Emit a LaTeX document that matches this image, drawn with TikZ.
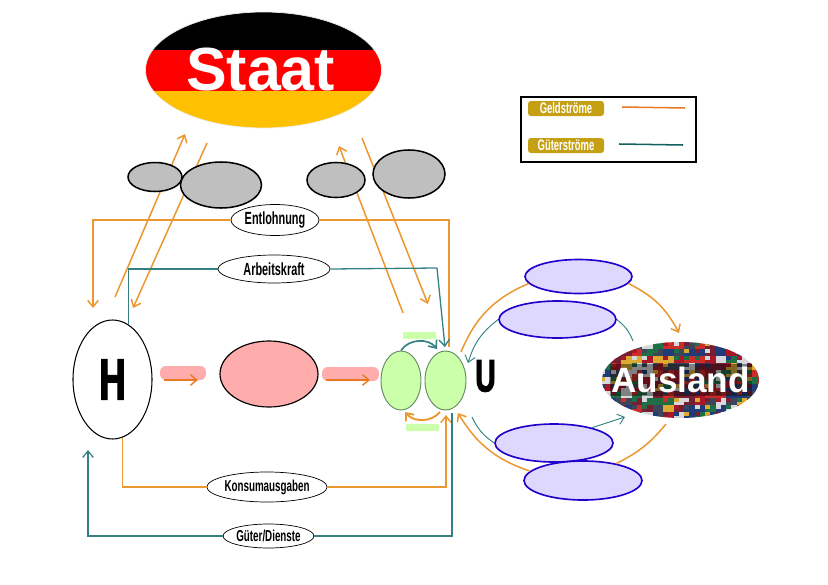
\documentclass[tikz,border=0pt]{standalone}
\usepackage{fontspec}
\setmainfont{Liberation Sans}
\newfontfamily\dinfont[FakeStretch=0.62]{Liberation Sans}
\newfontfamily\dinheavy[FakeStretch=0.62, FakeBold=2]{Liberation Sans Bold}
\usetikzlibrary{shapes.geometric, arrows.meta, positioning, calc}
\definecolor{geldOrange}{RGB}{236, 152, 50}
\definecolor{guterTeal}{RGB}{52, 128, 130}
\definecolor{deepOrange}{RGB}{232, 122, 36}
\definecolor{legendTeal}{RGB}{20, 96, 96}
\definecolor{flagGold}{RGB}{255, 192, 0}
\definecolor{legendGold}{RGB}{198, 160, 20}
\definecolor{pinkFill}{RGB}{255, 172, 172}
\definecolor{greenFill}{RGB}{204, 255, 170}
\definecolor{greenLine}{RGB}{100, 140, 100}
\definecolor{lilacFill}{RGB}{222, 216, 255}
\definecolor{lilacLine}{RGB}{34, 0, 204}
\definecolor{flag0}{RGB}{170, 24, 40}
\definecolor{flag1}{RGB}{32, 60, 120}
\definecolor{flag2}{RGB}{215, 215, 220}
\definecolor{flag3}{RGB}{30, 110, 70}
\definecolor{flag4}{RGB}{205, 45, 40}
\definecolor{flag5}{RGB}{220, 170, 50}
\definecolor{flag6}{RGB}{120, 30, 50}
\definecolor{flag7}{RGB}{60, 70, 90}

\begin{document}
\begin{tikzpicture}[
    x=0.03cm, y=-0.03cm,
    oval/.style 2 args={ellipse, inner sep=0pt, minimum width=#1*0.03cm, minimum height=#2*0.03cm},
    graybox/.style={draw=black, line width=1.3pt, fill=black!25},
    hbox/.style={draw=black, line width=0.9pt, fill=white, font=\dinheavy\fontsize{50}{50}\selectfont},
    pinkbox/.style={draw=black, line width=1pt, fill=pinkFill},
    greenbox/.style={draw=greenLine, line width=0.8pt, fill=greenFill},
    lilacbox/.style={draw=lilacLine, line width=1.4pt, fill=lilacFill},
    flowlabel/.style={draw=black, line width=0.6pt, fill=white, font=\dinfont\bfseries\fontsize{15}{15}\selectfont},
    flowsmall/.style={flowlabel, font=\dinfont\bfseries\fontsize{13.5}{14}\selectfont},
    bar/.style={rectangle, rounded corners=5pt, inner sep=0pt},
    legendlabel/.style={rectangle, rounded corners=2.5pt, inner sep=0pt, fill=legendGold, text=white, minimum width=76*0.03cm, minimum height=15*0.03cm, font=\dinfont\bfseries\fontsize{13}{13}\selectfont},
    geld/.style={geldOrange, line width=1.3pt},
    guter/.style={guterTeal, line width=1.1pt},
    tip/.style={-{Straight Barb[length=5.5pt, width=9pt]}}
]
\useasboundingbox (0,0) rectangle (828,585);

% Free ends of the connectors
\coordinate (hausUp) at (115,297);
\coordinate (staatIn1) at (185,134);
\coordinate (staatOut1) at (207,143);
\coordinate (hausIn1) at (133,308);
\coordinate (firmUp) at (403,313);
\coordinate (staatIn2) at (339,146);
\coordinate (staatOut2) at (362,138);
\coordinate (firmIn1) at (428,304);
\coordinate (hausGeld) at (93,308);
\coordinate (firmGeld) at (449,347);
\coordinate (arbeitKnick) at (437,268);
\coordinate (firmGuter) at (445,347);
\coordinate (firmKonsum) at (446,415);
\coordinate (hausGuter) at (88,450);
\coordinate (firmOut) at (452,413);

% Diagonal flows run behind the gray ovals
\draw[geld, tip] (hausUp) -- (staatIn1);
\draw[geld, tip] (staatOut1) -- (hausIn1);
\draw[geld, tip] (firmUp) -- (staatIn2);
\draw[geld, tip] (staatOut2) -- (firmIn1);

% Staat with flag stripes
\begin{scope}
\clip (263.5,70) ellipse [x radius=118, y radius=58];
\fill[black] (140,10) rectangle (390,50);
\fill[red] (140,50) rectangle (390,91);
\fill[flagGold] (140,91) rectangle (390,130);
\end{scope}
\node[oval={236}{116}, draw=black!8, line width=0.6pt, text=white, font=\bfseries\fontsize{52}{52}\selectfont] (staat) at (263.5,70) {\hspace*{-5pt}Staat};

\node[oval={54}{29}, graybox] (gray1) at (155,177) {};
\node[oval={81}{46}, graybox] (gray2) at (221,185) {};
\node[oval={58}{35}, graybox] (gray3) at (336,180) {};
\node[oval={72}{48}, graybox] (gray4) at (409,174) {};

% Main nodes
\node[oval={79}{119}, hbox] (haus) at (112.5,379.5) {H};
\node[bar, fill=pinkFill, minimum width=46*0.03cm, minimum height=14*0.03cm] (pink1) at (183,373) {};
\node[oval={98}{66}, pinkbox] (bank) at (269,374) {};
\node[bar, fill=pinkFill, minimum width=57*0.03cm, minimum height=14*0.03cm] (pink2) at (350.5,374) {};
\node[bar, rounded corners=1pt, fill=greenFill, minimum width=33*0.03cm, minimum height=7*0.03cm] (green1) at (419.5,335.5) {};
\node[bar, rounded corners=1pt, fill=greenFill, minimum width=33*0.03cm, minimum height=7*0.03cm] (green2) at (422.5,427.5) {};
\node[oval={40}{59}, greenbox] (firm1) at (401,380.5) {};
\node[oval={41}{59}, greenbox] (firm2) at (445.5,380.5) {};
\node[font=\dinheavy\fontsize{39}{39}\selectfont] (ulabel) at (485.5,376) {U};

% Labels on the loop
\node[oval={88}{31}, flowlabel] (entlohnung) at (275,220) {Entlohnung};
\node[oval={112}{28}, flowlabel] (arbeitskraft) at (274,269) {Arbeitskraft};
\node[oval={106}{30}, flowsmall] (konsum) at (267,487) {Konsumausgaben};
\node[oval={87}{24}, flowsmall] (gueter) at (268.5,536) {Güter/Dienste};

% Ausland with a wall of little flags
\begin{scope}
\clip (680.5,380) ellipse [x radius=78.5, y radius=38];
\pgfmathsetseed{11}
\foreach \row in {0,...,10}{
    \foreach \col in {0,...,15}{
        \pgfmathrandominteger{\flagcol}{0}{7}
        \pgfmathrandominteger{\flagtop}{0}{7}
        \fill[flag\flagcol] (600+\col*10.5,342+\row*7) rectangle (610.5+\col*10.5,349+\row*7);
        \fill[flag\flagtop] (600+\col*10.5,342+\row*7) rectangle (605+\col*10.5,346+\row*7);
    }
}
\fill[black, opacity=0.4] (610,364) rectangle (752,396);
\end{scope}
\node[oval={157}{76}, text=white, font=\bfseries\fontsize{30}{30}\selectfont] (ausland) at (680.5,380) {Ausland};

\node[oval={107}{34}, lilacbox] (export1) at (578.5,276.5) {};
\node[oval={117}{37}, lilacbox] (import1) at (557.5,319.5) {};
\node[oval={118}{38}, lilacbox] (export2) at (554,443) {};
\node[oval={118}{39}, lilacbox] (import2) at (583,480.5) {};

% Loop connectors
\draw[geld, tip] (entlohnung.west) -| (hausGeld);
\draw[geld] (entlohnung.east) -| (firmGeld);
\draw[guter] (arbeitskraft.west) -| (haus.74);
\draw[guter] (arbeitskraft.east) -- (arbeitKnick);
\draw[guter, tip] (arbeitKnick) -- (firmGuter);
\draw[geld] (haus.-80) |- (konsum.west);
\draw[geld, tip] (konsum.east) -| (firmKonsum);
\draw[guter] (firmOut) |- (gueter.east);
\draw[guter, tip] (gueter.west) -| (hausGuter);

% Pink and green inner arrows
\coordinate (pink1a) at (164,380);
\coordinate (pink1b) at (198,380);
\coordinate (pink2a) at (326,380);
\coordinate (pink2b) at (370,380);
\coordinate (firmTop) at (437,349);
\coordinate (firmBotA) at (440,412);
\coordinate (firmBotB) at (405,412);
\draw[deepOrange, line width=1.2pt, tip] (pink1a) -- (pink1b);
\draw[deepOrange, line width=1.2pt, tip] (pink2a) -- (pink2b);
\draw[guter, line width=1.4pt, tip] (firm1.north) to[bend left=55] (firmTop);
\draw[geld, line width=1.6pt, tip] (firmBotA) to[bend left=50] (firmBotB);

% Right side
\coordinate (uOrange1) at (461,352);
\coordinate (uTeal1) at (468,363);
\coordinate (uTeal2) at (472,417);
\coordinate (uOrange2) at (458,413);
\coordinate (auslandO1) at (679,333);
\coordinate (auslandT1) at (633,341);
\coordinate (auslandT2) at (625,417);
\coordinate (auslandO2) at (666,424);
\draw[geld] (uOrange1) to[bend left=22] (export1.188);
\draw[geld, tip] (export1.-8) to[bend left=18] (auslandO1);
\draw[guter, line width=0.8pt] (auslandT1) to[bend right=15] (import1.east);
\draw[guter, line width=0.8pt, tip] (import1.west) to[bend right=18] (uTeal1);
\draw[guter, line width=0.8pt] (uTeal2) to[bend right=15] (export2.west);
\draw[guter, line width=0.8pt, tip] (export2.22) -- (auslandT2);
\draw[geld] (auslandO2) to[bend left=12] (import2.27);
\draw[geld, tip] (import2.170) to[bend left=20] (uOrange2);

% Legend
\node[draw=black, line width=1.1pt, inner sep=0pt, minimum width=175*0.03cm, minimum height=65*0.03cm] (legend) at (608.5,129.5) {};
\node[legendlabel] (geldlabel) at (566,108.5) {Geldströme};
\node[legendlabel] (guterlabel) at (566,145.5) {Güterströme};
\coordinate (geldA) at (622,107);
\coordinate (geldB) at (685,108);
\coordinate (guterA) at (619,144);
\coordinate (guterB) at (683,145);
\draw[deepOrange, line width=1.3pt] (geldA) -- (geldB);
\draw[legendTeal, line width=1.3pt] (guterA) -- (guterB);

\end{tikzpicture}
\end{document}
